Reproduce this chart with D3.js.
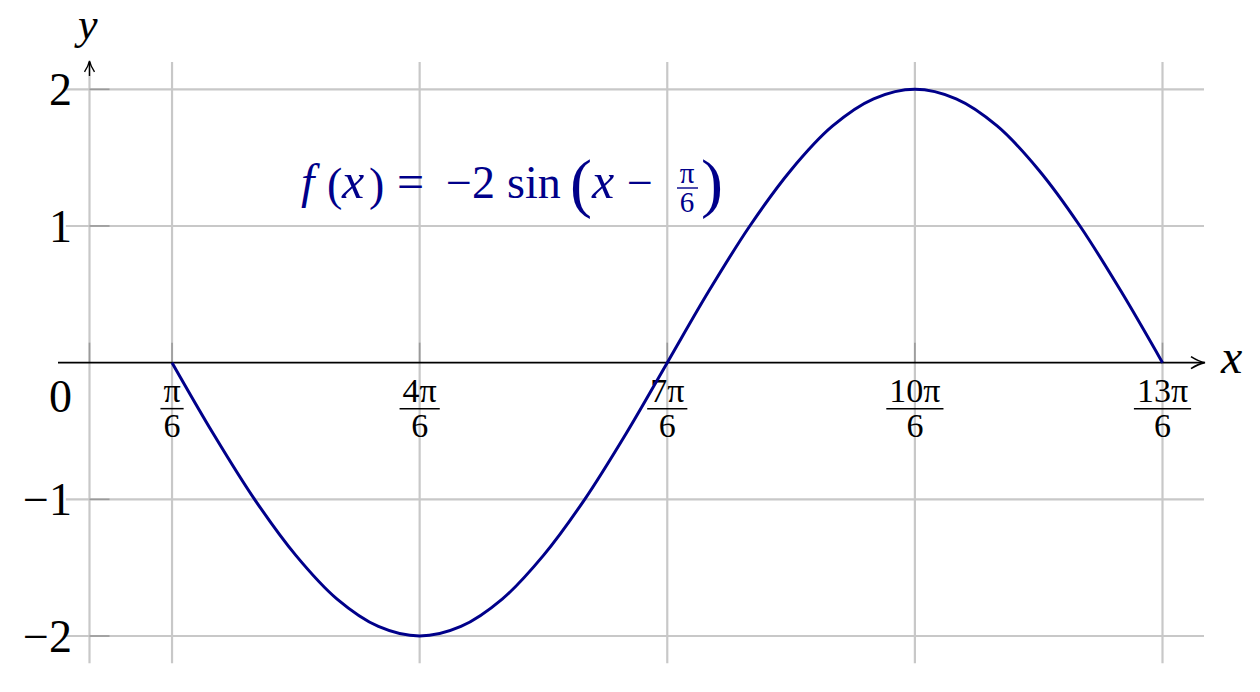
<!DOCTYPE html>
<html>
<head>
<meta charset="utf-8">
<script src="https://cdn.jsdelivr.net/npm/d3@7"></script>
<style>
  body { margin: 0; background: #fff; }
</style>
</head>
<body>
<svg id="chart" width="1260" height="692" font-family="Liberation Serif"></svg>
<script>
// x ticks, numerators in units of pi/6
const xTickNum = [1, 4, 7, 10, 13];
const xTickLabels = ["π", "4π", "7π", "10π", "13π"];
const yTicks = [-2, -1, 1, 2];
const yTickLabels = ["−2", "−1", "1", "2"];

// curve points, x in units of pi/12
const curveX = [2, 3, 4, 5, 6, 7, 8, 9, 10, 11, 12, 13, 14, 15, 16, 17, 18, 19, 20, 21, 22, 23, 24, 25, 26];
const curveY = [0, -0.52, -1.0, -1.41, -1.73, -1.93, -2.0, -1.93, -1.73, -1.41, -1.0, -0.52, 0,
                0.52, 1.0, 1.41, 1.73, 1.93, 2.0, 1.93, 1.73, 1.41, 1.0, 0.52, 0];

const curveColor = "#00008a";
const gridColor = "#c8c8c8";
const tickColor = "#9a9a9a";
const FONT = "Liberation Serif";

const svg = d3.select("#chart");

const x = d3.scaleLinear().domain([0, 13 * Math.PI / 6]).range([89.5, 1162.5]);
const y = d3.scaleLinear().domain([-2, 2]).range([636, 89.3]);

const xMin = -0.15, xMax = 7.07;
const yMin = -2.2, yMax = 2.2;

// grid
const grid = svg.append("g");
grid.selectAll(".vgrid")
    .data([0].concat(xTickNum.map(d => d * Math.PI / 6)))
    .join("line")
    .attr("x1", d => x(d)).attr("x2", d => x(d))
    .attr("y1", y(yMax)).attr("y2", y(yMin))
    .attr("stroke", gridColor).attr("stroke-width", 2.2);

grid.selectAll(".hgrid")
    .data(yTicks)
    .join("line")
    .attr("x1", x(xMin)).attr("x2", x(xMax))
    .attr("y1", d => y(d)).attr("y2", d => y(d))
    .attr("stroke", gridColor).attr("stroke-width", 2.2);

// ticks
svg.append("g").selectAll("line")
    .data(yTicks)
    .join("line")
    .attr("x1", x(0)).attr("x2", x(0) + 20)
    .attr("y1", d => y(d)).attr("y2", d => y(d))
    .attr("stroke", tickColor).attr("stroke-width", 1.6);

svg.append("g").selectAll("line")
    .data([0].concat(xTickNum.map(d => d * Math.PI / 6)))
    .join("line")
    .attr("x1", d => x(d)).attr("x2", d => x(d))
    .attr("y1", y(0) - 20).attr("y2", y(0))
    .attr("stroke", tickColor).attr("stroke-width", 1.6);

// x axis
svg.append("line")
    .attr("x1", 58).attr("x2", x(xMax) - 2)
    .attr("y1", y(0)).attr("y2", y(0))
    .attr("stroke", "#000").attr("stroke-width", 1.6);
svg.append("path")
    .attr("d", `M${x(xMax) - 13},${y(0) - 6} Q${x(xMax) - 5},${y(0) - 1} ${x(xMax) + 1},${y(0)} Q${x(xMax) - 5},${y(0) + 1} ${x(xMax) - 13},${y(0) + 6}`)
    .attr("fill", "none").attr("stroke", "#000").attr("stroke-width", 1.6);

// y axis arrow tip
svg.append("line")
    .attr("x1", x(0)).attr("x2", x(0))
    .attr("y1", y(yMax)).attr("y2", y(yMax) + 14)
    .attr("stroke", "#000").attr("stroke-width", 1.4);
svg.append("path")
    .attr("d", `M${x(0) - 5},${y(yMax) + 10} Q${x(0) - 1},${y(yMax) + 4} ${x(0)},${y(yMax) - 1} Q${x(0) + 1},${y(yMax) + 4} ${x(0) + 5},${y(yMax) + 10}`)
    .attr("fill", "none").attr("stroke", "#000").attr("stroke-width", 1.4);

// axis labels
svg.append("text").attr("x", 1221).attr("y", 373).attr("font-family", FONT)
    .attr("font-size", 48).attr("font-style", "italic").text("x");
svg.append("text").attr("x", 78).attr("y", 39).attr("font-family", FONT)
    .attr("font-size", 44).attr("font-style", "italic").text("y");

// y tick labels
svg.append("g").selectAll("text")
    .data(yTicks)
    .join("text")
    .attr("x", 72).attr("y", d => y(d) + 16)
    .attr("text-anchor", "end")
    .attr("font-family", FONT)
    .attr("font-size", 46)
    .text((d, i) => yTickLabels[i]);
svg.append("text").attr("x", 72).attr("y", y(0) + 49).attr("font-family", FONT)
    .attr("text-anchor", "end").attr("font-size", 46).text("0");

// x tick labels as fractions
const xl = svg.append("g").selectAll("g")
    .data(xTickNum)
    .join("g")
    .attr("transform", d => `translate(${x(d * Math.PI / 6)},0)`);
xl.append("text")
    .attr("y", y(0) + 39).attr("text-anchor", "middle").attr("font-size", 34)
    .attr("font-family", FONT)
    .text((d, i) => xTickLabels[i]);
xl.append("text")
    .attr("y", y(0) + 74).attr("text-anchor", "middle").attr("font-size", 34)
    .attr("font-family", FONT)
    .text("6");
xl.each(function () {
    const w = this.querySelector("text").getComputedTextLength() + 6;
    d3.select(this).append("line")
        .attr("x1", -w / 2).attr("x2", w / 2)
        .attr("y1", y(0) + 46).attr("y2", y(0) + 46)
        .attr("stroke", "#000").attr("stroke-width", 1.5);
});

// curve
const line = d3.line()
    .x(d => x(d[0] * Math.PI / 12))
    .y(d => y(d[1]))
    .curve(d3.curveCatmullRom);
svg.append("path")
    .datum(curveX.map((d, i) => [d, curveY[i]]))
    .attr("d", line)
    .attr("fill", "none")
    .attr("stroke", curveColor)
    .attr("stroke-width", 3);

// formula label, pieces placed like the typeset original
const f = svg.append("g").attr("fill", curveColor).attr("font-family", FONT);
const base = 198;
const pieces = [
    ["f", 301, 48, true, base],
    ["(", 327, 46, false, base + 2],
    ["x", 342, 50, true, base],
    [")", 369, 46, false, base + 2],
    ["=", 397, 48, false, base],
    ["−2", 446, 46, false, base],
    ["sin", 507, 46, false, base],
    ["(", 570, 66, false, base + 7],
    ["x", 592, 50, true, base],
    ["−", 627, 46, false, base],
    [")", 701, 66, false, base + 7]
];
pieces.forEach(p => {
    f.append("text")
        .attr("x", p[1]).attr("y", p[4])
        .attr("font-size", p[2])
        .attr("font-style", p[3] ? "italic" : "normal")
        .text(p[0]);
});
// the small fraction pi/6
f.append("text").attr("x", 687).attr("y", 183).attr("text-anchor", "middle")
    .attr("font-size", 29).text("π");
f.append("text").attr("x", 687).attr("y", 212).attr("text-anchor", "middle")
    .attr("font-size", 29).text("6");
f.append("line").attr("x1", 677).attr("x2", 698)
    .attr("y1", 188).attr("y2", 188)
    .attr("stroke", curveColor).attr("stroke-width", 1.4);
</script>
</body>
</html>
